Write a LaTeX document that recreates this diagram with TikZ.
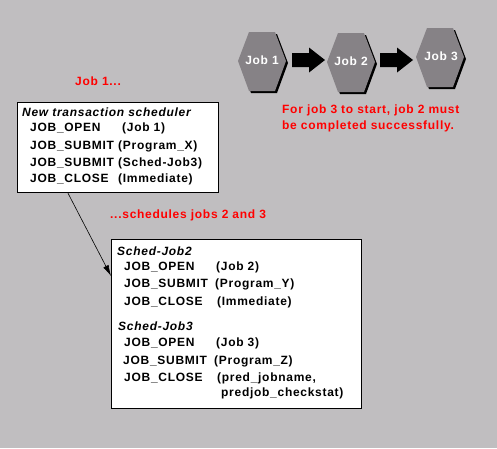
\documentclass[tikz,border=0pt]{standalone}
\usepackage{fontspec}
\setmainfont{Liberation Sans}[LetterSpace=6]
\usetikzlibrary{arrows.meta}
\definecolor{bg}{RGB}{192,190,192}
\definecolor{hexfill}{RGB}{134,130,134}
\definecolor{redtxt}{RGB}{255,0,0}
\tikzset{
  txt/.style={anchor=west,inner sep=0pt,font=\fontsize{12}{14}\selectfont\bfseries},
  ital/.style={txt,font=\fontsize{12}{14}\selectfont\bfseries\itshape},
  redlbl/.style={txt,text=redtxt},
  joblbl/.style={inner sep=0pt,text=white,font=\fontsize{12}{14}\selectfont\bfseries},
  box/.style={draw=black,line width=1.2pt,fill=white,anchor=north west,inner sep=0pt},
  blockarrow/.style={fill=black},
  hexshape/.style={fill=hexfill},
  hexshadow/.style={fill=black}
}
\begin{document}
\begin{tikzpicture}[x=1pt,y=-1pt]
\useasboundingbox (0,0) rectangle (497,448);
\fill[bg] (0,0) rectangle (497,448);

% hexagons
\coordinate (h1) at (262,61);
\coordinate (h2) at (351,62);
\coordinate (h3) at (440,57);
\foreach \h in {h1,h2,h3}{
  \fill[hexshadow] ([shift={(2,2)}]\h) ++(-13,-29) -- ++(26,0) -- ++(11,29) -- ++(-11,30) -- ++(-26,0) -- ++(-11,-30) -- cycle;
  \fill[hexshape] (\h) ++(-13,-29) -- ++(26,0) -- ++(11,29) -- ++(-11,30) -- ++(-26,0) -- ++(-11,-30) -- cycle;
}
\node[joblbl] (j1) at (262,60) {Job 1};
\node[joblbl] (j2) at (351,61) {Job 2};
\node[joblbl] (j3) at (441,56) {Job 3};

% block arrows (tail point named)
\coordinate (a1) at (292,60);
\coordinate (a2) at (380,60);
\foreach \a in {a1,a2}{
  \fill[blockarrow] (\a) ++(0,-7) -- ++(17,0) -- ++(0,-5.5) -- ++(16,12.5) -- ++(-16,12.5) -- ++(0,-5.5) -- ++(-17,0) -- cycle;
}

\node[redlbl] (r1) at (282,110) {For job 3 to start, job 2 must};
\node[redlbl] (r2) at (282,126) {be completed successfully.};
\node[redlbl] (r3) at (75,81) {Job 1...};
\node[redlbl] (r4) at (110,215) {...schedules jobs 2 and 3};

% box 1
\node[box,minimum width=201pt,minimum height=90pt] (b1) at (17,102) {};
\node[ital] (b1t) at (22,112) {New transaction scheduler};
\node[txt] (b1a) at (30,128) {JOB\_OPEN};
\node[txt] (b1ap) at (122,128) {(Job 1)};
\node[txt] (b1b) at (30,146) {JOB\_SUBMIT};
\node[txt] (b1bp) at (118,146) {(Program\_X)};
\node[txt] (b1c) at (30,163) {JOB\_SUBMIT};
\node[txt] (b1cp) at (118,163) {(Sched-Job3)};
\node[txt] (b1d) at (30,179) {JOB\_CLOSE};
\node[txt] (b1dp) at (118,179) {(Immediate)};

% box 2
\node[box,minimum width=250pt,minimum height=169pt] (b2) at (111,239) {};
\node[ital] (b2t) at (117,251) {Sched-Job2};
\node[txt] (b2a) at (124,267) {JOB\_OPEN};
\node[txt] (b2ap) at (216,267) {(Job 2)};
\node[txt] (b2b) at (124,284) {JOB\_SUBMIT};
\node[txt] (b2bp) at (215,284) {(Program\_Y)};
\node[txt] (b2c) at (124,302) {JOB\_CLOSE};
\node[txt] (b2cp) at (217,302) {(Immediate)};
\node[ital] (b2u) at (118,326) {Sched-Job3};
\node[txt] (b2d) at (124,343) {JOB\_OPEN};
\node[txt] (b2dp) at (216,343) {(Job 3)};
\node[txt] (b2e) at (123,361) {JOB\_SUBMIT};
\node[txt] (b2ep) at (214,361) {(Program\_Z)};
\node[txt] (b2f) at (124,378) {JOB\_CLOSE};
\node[txt] (b2fp) at (217,378) {(pred\_jobname,};
\node[txt] (b2gp) at (221,393) {predjob\_checkstat)};

\draw[line width=0.6pt,-{Latex[length=11pt,width=6pt]}] ([xshift=51pt]b1.south west) -- ([yshift=-37pt]b2.north west);
\end{tikzpicture}
\end{document}
